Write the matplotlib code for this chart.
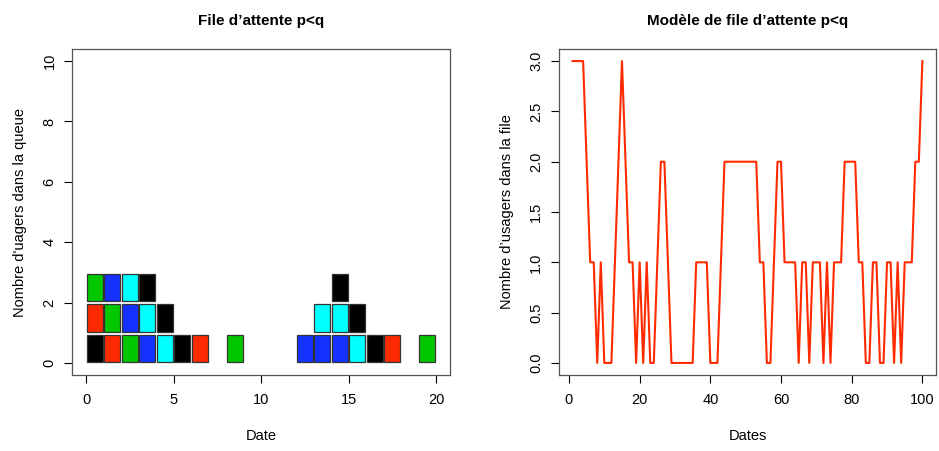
import matplotlib.pyplot as plt
from matplotlib.patches import Rectangle

plt.rcParams['font.family'] = ['Liberation Sans', 'DejaVu Sans']

# queue length at each step (right panel), the first 20 are the stacks on the left
dates = list(range(1, 101))
queue = [3, 3, 3, 3, 2, 1, 1, 0, 1, 0, 0, 0, 1, 2, 3, 2, 1, 1, 0, 1,
         0, 1, 0, 0, 1, 2, 2, 1, 0, 0, 0, 0, 0, 0, 0, 1, 1, 1, 1, 0,
         0, 0, 1, 2, 2, 2, 2, 2, 2, 2, 2, 2, 2, 1, 1, 0, 0, 1, 2, 2,
         1, 1, 1, 1, 0, 1, 1, 0, 1, 1, 1, 0, 1, 0, 1, 1, 1, 2, 2, 2,
         2, 1, 1, 0, 0, 1, 1, 0, 0, 1, 1, 0, 1, 0, 1, 1, 1, 2, 2, 3]

# customers waiting at each date 0..19, bottom to top (index into palette)
palette = ['black', '#FF2A00', '#00C800', '#1432FF', '#00FFFF']
stacks = [
    [0, 1, 2], [1, 2, 3], [2, 3, 4], [3, 4, 0], [4, 0], [0], [1], [], [2], [],
    [], [], [3], [3, 4], [3, 4, 0], [4, 0], [0], [1], [], [2],
]

fig = plt.figure(figsize=(9.39, 4.51), dpi=100)
ax1 = fig.add_axes([0.0767, 0.1685, 0.4026, 0.7228])
ax2 = fig.add_axes([0.5948, 0.1685, 0.4024, 0.7228])

for i, col in enumerate(stacks):
    for j, c in enumerate(col):
        ax1.add_patch(Rectangle((i + 0.03, j + 0.04), 0.92, 0.9,
                                facecolor=palette[c], edgecolor='#333333', linewidth=0.9))
ax1.set_xlim(-0.8, 20.8)
ax1.set_ylim(-0.4, 10.4)
ax1.set_xticks([0, 5, 10, 15, 20])
ax1.set_yticks([0, 2, 4, 6, 8, 10])
ax1.set_title('File d’attente p<q', fontsize=11, fontweight='bold', pad=17)
ax1.set_xlabel('Date', fontsize=10.5, labelpad=16)
ax1.set_ylabel("Nombre d'uagers dans la queue", fontsize=10.5, labelpad=11)

ax2.plot(dates, queue, color='#FF2A00', linewidth=1.5)
ax2.set_xlim(-2.96, 103.96)
ax2.set_ylim(-0.12, 3.12)
ax2.set_xticks([0, 20, 40, 60, 80, 100])
ax2.set_yticks([0, 0.5, 1, 1.5, 2, 2.5, 3])
ax2.set_yticklabels(['0.0', '0.5', '1.0', '1.5', '2.0', '2.5', '3.0'])
ax2.set_title('Modèle de file d’attente p<q', fontsize=11, fontweight='bold', pad=17)
ax2.set_xlabel('Dates', fontsize=10.5, labelpad=16)
ax2.set_ylabel('Nombre d’usagers dans la file', fontsize=10.5, labelpad=11)

for ax in (ax1, ax2):
    ax.tick_params(direction='out', length=6, width=0.8, labelsize=10.5)
    ax.tick_params(axis='x', pad=7)
    ax.tick_params(axis='y', pad=5)
    for lab in ax.get_yticklabels():
        lab.set_rotation(90)
        lab.set_va('center')
    for s in ax.spines.values():
        s.set_color('#555555')
        s.set_linewidth(0.9)

fig.savefig('out.png', dpi=100)
